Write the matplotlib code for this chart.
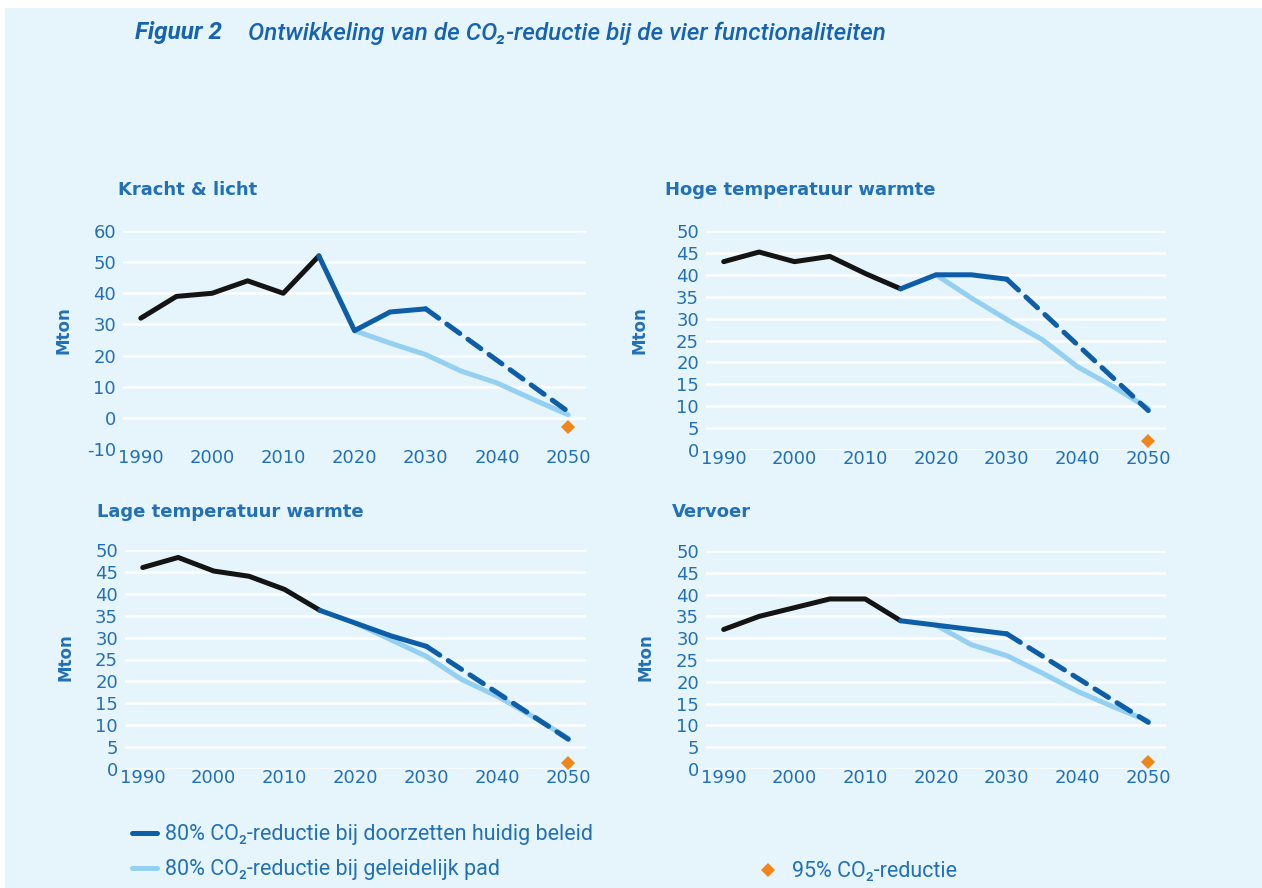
import matplotlib
matplotlib.use("Agg")
import matplotlib.pyplot as plt
from matplotlib.patches import Rectangle
from matplotlib import font_manager

plt.rcParams["axes.unicode_minus"] = False

# ---------------- data ----------------
years_hist = [1990, 1995, 2000, 2005, 2010, 2015]
years_beleid = [2015, 2020, 2025, 2030]
years_dash = [2030, 2050]
years_pad = [2020, 2025, 2030, 2035, 2040, 2045, 2050]
year_95 = [2050]

kracht_hist = [32, 39, 40, 44, 40, 52]
kracht_beleid = [52, 28, 34, 35]
kracht_dash = [35, 2]
kracht_pad = [28, 24, 20.3, 15, 11.2, 6, 1]
kracht_95 = [-3]

hoge_hist = [43, 45.2, 43, 44.2, 40.3, 36.8]
hoge_beleid = [36.8, 40, 40, 39]
hoge_dash = [39, 9]
hoge_pad = [40, 34.7, 29.8, 25.2, 19, 14.5, 9.5]
hoge_95 = [2]

lage_hist = [46, 48.3, 45.2, 44, 41, 36.2]
lage_beleid = [36.2, 33.3, 30.4, 28]
lage_dash = [28, 6.8]
lage_pad = [33.3, 29.5, 25.7, 20.4, 16.6, 12, 7]
lage_95 = [1.4]

vervoer_hist = [32, 35, 37, 39, 39, 34]
vervoer_beleid = [34, 33, 32, 31]
vervoer_dash = [31, 10.7]
vervoer_pad = [33, 28.5, 26, 22, 17.8, 14.3, 11]
vervoer_95 = [1.5]

titles = ["Kracht & licht", "Hoge temperatuur warmte",
          "Lage temperatuur warmte", "Vervoer"]
xticks = [1990, 2000, 2010, 2020, 2030, 2040, 2050]
yticks_kracht = [-10, 0, 10, 20, 30, 40, 50, 60]
yticks_other = [0, 5, 10, 15, 20, 25, 30, 35, 40, 45, 50]

legend_labels = ["80% CO\u2082-reductie bij doorzetten huidig beleid",
                 "80% CO\u2082-reductie bij geleidelijk pad",
                 "95% CO\u2082-reductie"]
fig_title_a = "Figuur 2"
fig_title_b = "Ontwikkeling van de CO\u2082-reductie bij de vier functionaliteiten"

# ---------------- style ----------------
BG = "#e6f4fc"
TXT = "#2270b5"
TITLE = "#1663b0"
BLACK = "#141414"
DARK = "#0d5ea6"
LIGHT = "#93d0f2"
ORANGE = "#f08518"

names = {f.name for f in font_manager.fontManager.ttflist}
NARROW = ["Liberation Sans Narrow", "DejaVu Sans"] if "Liberation Sans Narrow" in names \
    else ["Roboto", "DejaVu Sans"]

W, H = 1262, 888
fig = plt.figure(figsize=(W / 100, H / 100), dpi=100, facecolor="white")
fig.add_artist(Rectangle((5 / W, 0), 1 - 5 / W, 1 - 8 / H, transform=fig.transFigure,
                         facecolor=BG, edgecolor="none", zorder=-10))

fig.text(135 / W, 1 - 33 / H, fig_title_a, color=TITLE, fontsize=17.5, fontweight="bold",
         style="italic", family=NARROW, va="center", ha="left")
fig.text(248 / W, 1 - 33 / H, fig_title_b, color=TITLE, fontsize=17.5,
         fontweight="medium", style="italic", family=NARROW, va="center", ha="left")

panels = [
    ((123, 586, 231, 449), (-10, 60), yticks_kracht,
     (kracht_hist, kracht_beleid, kracht_dash, kracht_pad, kracht_95), (118, 190), (64, 330)),
    ((706, 1166, 231, 450), (0, 50), yticks_other,
     (hoge_hist, hoge_beleid, hoge_dash, hoge_pad, hoge_95), (665, 190), (640, 330)),
    ((125, 586, 550, 769), (0, 50), yticks_other,
     (lage_hist, lage_beleid, lage_dash, lage_pad, lage_95), (97, 512), (66, 657)),
    ((706, 1166, 551, 769), (0, 50), yticks_other,
     (vervoer_hist, vervoer_beleid, vervoer_dash, vervoer_pad, vervoer_95), (672, 512), (646, 657)),
]

handles = None
for (box, ylim, yt, data, tpos, lpos), title in zip(panels, titles):
    l, r, t, b = box
    ax = fig.add_axes([l / W, 1 - b / H, (r - l) / W, (b - t) / H])
    ax.set_facecolor("none")
    for s in ax.spines.values():
        s.set_visible(False)
    ax.set_xlim(1987.5, 2052.5)
    ax.set_ylim(*ylim)
    for v in yt:
        if v > ylim[0] or ylim[0] == 0:
            ax.axhline(v, color="white", lw=1.8, zorder=0)
    hist, beleid, dash, pad, p95 = data
    lp, = ax.plot(years_pad, pad, color=LIGHT, lw=3.6, solid_capstyle="round",
                  solid_joinstyle="round", zorder=2)
    lh, = ax.plot(years_hist, hist, color=BLACK, lw=3.6, solid_capstyle="round",
                  solid_joinstyle="round", zorder=3)
    lb, = ax.plot(years_beleid, beleid, color=DARK, lw=3.6, solid_capstyle="round",
                  solid_joinstyle="round", zorder=4)
    ax.plot(years_dash, dash, color=DARK, lw=3.6, dashes=(3.2, 2.0),
            dash_capstyle="round", zorder=4)
    ld, = ax.plot(year_95, p95, linestyle="none", marker="D", markersize=7.5,
                  color=ORANGE, markeredgewidth=0, zorder=5, clip_on=False)
    if handles is None:
        handles = (lb, lp, ld)
    ax.set_xticks(xticks)
    ax.set_yticks(yt)
    ax.tick_params(length=0, labelsize=13, labelcolor=TXT)
    ax.tick_params(axis="x", pad=0)
    ax.tick_params(axis="y", pad=5)
    for lab in ax.get_xticklabels() + ax.get_yticklabels():
        lab.set_fontfamily("DejaVu Sans")
    fig.text(tpos[0] / W, 1 - tpos[1] / H, title, color=TXT, fontsize=13,
             fontweight="bold", va="center", ha="left")
    fig.text(lpos[0] / W, 1 - lpos[1] / H, "Mton", color=TXT, fontsize=12,
             fontweight="bold", rotation=90, va="center", ha="center")

fig.legend(handles=[handles[0], handles[1]], labels=legend_labels[:2],
           loc="upper left", bbox_to_anchor=(113 / W, 1 - 805 / H),
           frameon=False, handlelength=1.15, handletextpad=0.35,
           labelspacing=0.65, prop={"family": NARROW, "size": 15.5},
           labelcolor=TXT)
fig.legend(handles=[handles[2]], labels=[legend_labels[2]],
           loc="upper left", bbox_to_anchor=(735 / W, 1 - 842 / H),
           frameon=False, handlelength=1.3, handletextpad=0.45,
           prop={"family": NARROW, "size": 15.5}, labelcolor=TXT)

fig.savefig("out.png", dpi=100, facecolor=fig.get_facecolor())
